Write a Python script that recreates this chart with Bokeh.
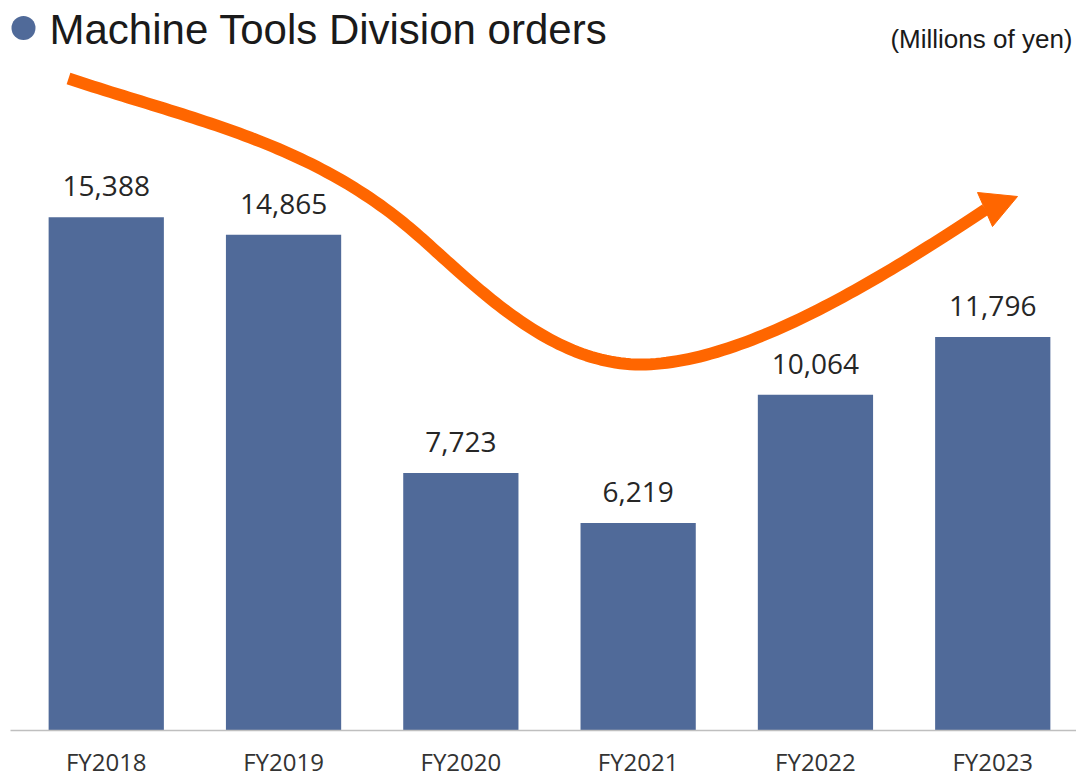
import numpy as np
from bokeh.plotting import figure
from bokeh.models import ColumnDataSource, Range1d, Label, FixedTicker
from bokeh.core.properties import value
from bokeh.embed import file_html
from bokeh.resources import INLINE

# ---- data ----
years = ["FY2018", "FY2019", "FY2020", "FY2021", "FY2022", "FY2023"]
orders = [15388, 14865, 7723, 6219, 10064, 11796]
labels = [f"{v:,}" for v in orders]

title_text = "Machine Tools Division orders"
unit_text = "(Millions of yen)"

BAR = "#506A99"
ORANGE = "#FF6600"

# category positions on the x scale (one slot per fiscal year)
pos = list(range(len(years)))

# ---- geometry helpers (page pixel -> data coords) ----
X0, XS = 105.75, 177.3        # page x of first category centre, px per category
Y0, YS = 730.0, 0.033353      # page y of value 0, px per unit
FRAME_L = 10
def px(x):
    return (x - X0) / XS
def py(y):
    return (Y0 - y) / YS

src = ColumnDataSource(dict(x=pos, y=orders, lab=labels))

xr = Range1d(px(FRAME_L), px(1076))
yr = Range1d(0, Y0 / YS)

p = figure(x_range=xr, y_range=yr, width=1076, height=781,
           output_backend="svg", toolbar_location=None, y_axis_location=None,
           min_border_left=FRAME_L, min_border_right=0, min_border_top=0,
           min_border_bottom=51)
p.outline_line_color = None
p.xgrid.grid_line_color = None
p.ygrid.grid_line_color = None
p.background_fill_color = "white"
p.border_fill_color = "white"

p.vbar(x="x", top="y", width=0.65, source=src, fill_color=BAR, line_color=None)

p.text(x="x", y="y", text="lab", source=src, text_align="center",
       text_baseline="alphabetic", y_offset=-31,
       text_font=value("Open Sans"), text_font_size="28px", text_color="#262626")

# decorative trend arrow (cubic bezier segments, page pixels)
segs = [
    ((68, 78), (188, 118), (300, 140), (400, 220)),
    ((400, 220), (460, 268), (540, 364), (640, 364)),
    ((640, 364), (740, 364), (875, 282), (985, 209)),
]
t = np.linspace(0, 1, 60)
cx, cy = [], []
for P0, P1, P2, P3 in segs:
    for k in range(2):
        c = ((1 - t) ** 3) * P0[k] + 3 * ((1 - t) ** 2) * t * P1[k] \
            + 3 * (1 - t) * t ** 2 * P2[k] + t ** 3 * P3[k]
        (cx if k == 0 else cy).extend(c.tolist())
p.line([px(v) for v in cx], [py(v) for v in cy], line_color=ORANGE,
       line_width=12, line_join="round", line_cap="butt")
head = [(1017, 196), (977, 192), (992, 226)]
p.patch([px(a) for a, b in head], [py(b) for a, b in head],
        fill_color=ORANGE, line_color=ORANGE, line_width=1)

# title with bullet
p.scatter([px(23)], [py(27.5)], size=24, marker="circle",
          fill_color=BAR, line_color=None)
p.add_layout(Label(x=px(49), y=py(41.7 - 13), text=title_text,
                   text_font="Liberation Sans", text_font_size="42px",
                   text_color="#1a1a1a", text_baseline="alphabetic"))
p.add_layout(Label(x=px(1072), y=py(49 - 11), text=unit_text, text_align="right",
                   text_font="Liberation Sans", text_font_size="26px",
                   text_color="#1a1a1a", text_baseline="alphabetic"))

ax = p.xaxis[0]
ax.ticker = FixedTicker(ticks=pos, minor_ticks=[])
ax.major_label_overrides = {i: y for i, y in zip(pos, years)}
ax.axis_line_color = "#BFBFBF"
ax.axis_line_width = 1.5
ax.major_tick_line_color = None
ax.minor_tick_line_color = None
ax.major_label_text_font = "Open Sans"
ax.major_label_text_font_size = "24px"
ax.major_label_text_color = "#333333"
ax.major_label_standoff = 8

open("out.html", "w").write(file_html(p, INLINE))
